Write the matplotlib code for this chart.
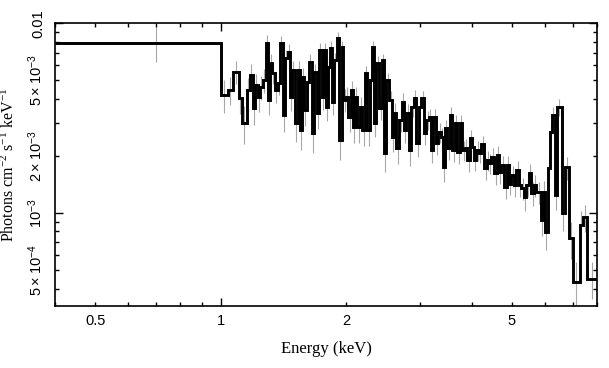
import matplotlib
matplotlib.use("Agg")
import matplotlib.pyplot as plt
import numpy as np

# Bin edges (keV)
edges = [0.4, 1.000, 1.039, 1.068, 1.104, 1.123, 1.154, 1.173, 1.193, 1.206, 1.226,
         1.240, 1.260, 1.282, 1.296, 1.310, 1.325, 1.347, 1.369, 1.384, 1.408,
         1.423, 1.447, 1.463, 1.479, 1.504, 1.529, 1.546, 1.563, 1.580, 1.607,
         1.624, 1.652, 1.670, 1.698, 1.717, 1.745,
         1.765, 1.784, 1.804, 1.824, 1.845, 1.865, 1.896, 1.917, 1.949, 1.970,
         2.003, 2.025, 2.059, 2.082, 2.105, 2.128, 2.164, 2.188, 2.225, 2.249,
         2.287, 2.312, 2.338, 2.363, 2.403, 2.443, 2.470, 2.497, 2.539, 2.581,
         2.610, 2.639, 2.683, 2.728, 2.758, 2.789, 2.835, 2.867, 2.914, 2.947,
         2.996, 3.029, 3.080, 3.114, 3.166, 3.201, 3.236, 3.290, 3.327, 3.382,
         3.420, 3.458, 3.496, 3.554, 3.594, 3.653, 3.694, 3.755, 3.797, 3.860,
         3.903, 3.968, 4.012, 4.057, 4.102, 4.171, 4.217, 4.287, 4.358, 4.407,
         4.456, 4.530, 4.606, 4.657, 4.709, 4.787, 4.867, 4.920, 4.975, 5.058,
         5.114, 5.200, 5.257, 5.346, 5.404, 5.495, 5.556, 5.648, 5.711, 5.870,
         5.935, 6.000, 6.101, 6.168, 6.237, 6.341, 6.412, 6.591, 6.701, 6.851,
         7.004, 7.279, 7.400, 7.566, 8.0]

# Flux (photons cm^-2 s^-1 keV^-1)
flux = [7.9e-3, 4.18e-3, 4.44e-3, 5.55e-3, 4.03e-3, 2.98e-3, 4.44e-3, 5.33e-3, 3.57e-3, 4.72e-3,
        4.08e-3, 4.61e-3, 5.02e-3, 7.87e-3, 3.94e-3, 6.17e-3, 5.46e-3, 4.44e-3, 4.84e-3, 7.87e-3,
        3.28e-3, 6.56e-3, 7.06e-3, 4.08e-3, 5.67e-3, 2.98e-3, 5.67e-3, 2.73e-3, 5.21e-3, 3.48e-3,
        4.90e-3, 6.25e-3, 2.63e-3, 5.53e-3, 3.36e-3, 7.23e-3,
        4.08e-3, 7.23e-3, 3.61e-3, 5.88e-3, 7.41e-3, 3.84e-3, 6.40e-3, 8.36e-3, 2.42e-3, 7.50e-3,
        3.94e-3, 4.08e-3, 3.20e-3, 4.44e-3, 2.84e-3, 4.08e-3, 2.84e-3, 3.61e-3, 2.73e-3, 5.46e-3,
        2.73e-3, 5.02e-3, 7.50e-3, 2.98e-3, 6.17e-3, 3.57e-3, 6.40e-3, 2.07e-3, 5.02e-3, 3.94e-3,
        2.51e-3, 3.36e-3, 2.20e-3, 3.09e-3, 3.84e-3, 2.73e-3, 3.36e-3, 2.14e-3, 3.61e-3, 4.03e-3,
        2.33e-3, 3.61e-3, 4.03e-3, 2.63e-3, 3.09e-3, 3.20e-3, 2.14e-3, 3.20e-3, 2.33e-3, 2.67e-3,
        2.51e-3, 1.74e-3, 2.80e-3, 2.20e-3, 3.28e-3, 2.14e-3, 2.98e-3, 2.09e-3, 2.98e-3, 2.14e-3,
        2.20e-3, 1.90e-3, 2.48e-3, 2.22e-3, 1.90e-3, 2.14e-3, 2.07e-3, 2.30e-3, 1.72e-3, 1.90e-3,
        1.83e-3, 1.97e-3, 1.62e-3, 2.02e-3, 1.64e-3, 1.79e-3, 1.37e-3, 1.79e-3, 1.43e-3, 1.58e-3,
        1.40e-3, 1.68e-3, 1.40e-3, 1.35e-3, 1.21e-3, 1.40e-3, 1.62e-3, 1.27e-3, 1.40e-3, 1.29e-3,
        9.15e-4, 1.29e-3, 7.91e-4, 1.72e-3, 2.67e-3, 3.28e-3, 1.24e-3, 3.61e-3, 9.97e-4, 1.74e-3,
        7.35e-4, 4.31e-4, 8.61e-4, 9.48e-4, 4.52e-4]

# 1-sigma errors (units of 1e-4)
err_e4 = [16.5, 8.3, 7.5, 7.8, 7.2, 6.8, 7.0, 7.4, 6.6, 7.0,
          6.8, 6.9, 7.1, 7.6, 6.5, 7.0, 6.8, 6.5, 6.6, 7.2,
          6.2, 6.8, 7.0, 6.2, 6.5, 6.0, 6.4, 5.8, 6.2, 5.9,
          6.1, 6.3, 5.6, 6.0, 5.7, 6.3,
          5.8, 6.2, 5.6, 5.9, 6.1, 5.5, 5.9, 6.2, 5.2, 6.0,
          5.4, 5.4, 5.1, 5.3, 4.9, 5.2, 4.9, 5.0, 4.8, 5.3,
          4.7, 5.1, 5.6, 4.6, 5.2, 4.6, 5.1, 4.2, 4.8, 4.5,
          4.1, 4.3, 3.9, 4.1, 4.3, 3.8, 4.0, 3.6, 3.9, 4.0,
          3.5, 3.8, 3.9, 3.4, 3.5, 3.5, 3.1, 3.4, 3.1, 3.2,
          3.1, 2.8, 3.1, 2.9, 3.2, 2.8, 3.0, 2.7, 2.9, 2.7,
          2.7, 2.5, 2.7, 2.6, 2.4, 2.5, 2.4, 2.5, 2.2, 2.3,
          2.2, 2.3, 2.1, 2.3, 2.1, 2.2, 1.9, 2.1, 1.9, 2.0,
          1.9, 2.0, 1.9, 1.8, 1.8, 1.9, 2.0, 1.8, 1.9, 1.7,
          1.6, 1.8, 1.5, 2.2, 2.8, 3.2, 2.0, 3.8, 1.9, 2.4,
          1.6, 1.2, 1.6, 1.5, 1.0]

edges_a = np.array(edges)
flux_a = np.array(flux)
err_a = np.array(err_e4) * 1e-4
assert len(edges_a) == len(flux_a) + 1 and len(err_a) == len(flux_a)
centers = 0.5 * (edges_a[:-1] + edges_a[1:])

fig = plt.figure(figsize=(6.09, 3.68), dpi=100)
ax = fig.add_axes([0.0903, 0.1693, 0.890, 0.7674])

ax.vlines(centers, flux_a - err_a, flux_a + err_a, color="#a8a8a8", lw=0.8, zorder=1)
ax.stairs(flux_a, edges_a, baseline=None, color="black", lw=2.1, zorder=2)

ax.set_xscale("log")
ax.set_yscale("log")
ax.set_xlim(0.4, 8.0)
ax.set_ylim(3.25e-4, 0.01)

sans = "Liberation Sans"
serif = "Liberation Serif"

# x ticks
ax.set_xticks([1], labels=["1"])
xminor = [0.4, 0.5, 0.6, 0.7, 0.8, 0.9, 2, 3, 4, 5, 6, 7, 8]
xminor_lab = ["", "0.5", "", "", "", "", "2", "", "", "5", "", "", ""]
ax.set_xticks(xminor, labels=xminor_lab, minor=True)

# y ticks
ax.set_yticks([1e-3, 1e-2], labels=[r"$\mathregular{10^{-3}}$", "0.01"])
yminor = [4e-4, 5e-4, 6e-4, 7e-4, 8e-4, 9e-4, 2e-3, 3e-3, 4e-3, 5e-3, 6e-3, 7e-3, 8e-3, 9e-3]
yminor_lab = ["", r"$\mathregular{5\times10^{-4}}$", "", "", "", "",
              r"$\mathregular{2\times10^{-3}}$", "", "", r"$\mathregular{5\times10^{-3}}$",
              "", "", "", ""]
ax.set_yticks(yminor, labels=yminor_lab, minor=True)

ax.tick_params(which="both", direction="in", top=True, right=True, width=1.0,
               labelsize=10.5, color="black")
ax.tick_params(which="major", length=6)
ax.tick_params(which="minor", length=3.2)
ax.tick_params(axis="x", which="both", pad=6)
ax.tick_params(axis="y", which="both", pad=7)

for lab in ax.get_xticklabels(which="both"):
    lab.set_fontfamily(sans)
for lab in ax.get_yticklabels(which="both"):
    lab.set_fontfamily(sans)
    lab.set_rotation(90)
    lab.set_va("center")

for s in ax.spines.values():
    s.set_linewidth(1.2)

ax.set_xlabel("Energy (keV)", fontfamily=serif, fontsize=12, labelpad=9)
ax.set_ylabel(r"Photons cm$\mathregular{^{-2}}$ s$\mathregular{^{-1}}$ keV$\mathregular{^{-1}}$",
              fontfamily=serif, fontsize=11.5, labelpad=6)

fig.savefig("out.png", dpi=100)
